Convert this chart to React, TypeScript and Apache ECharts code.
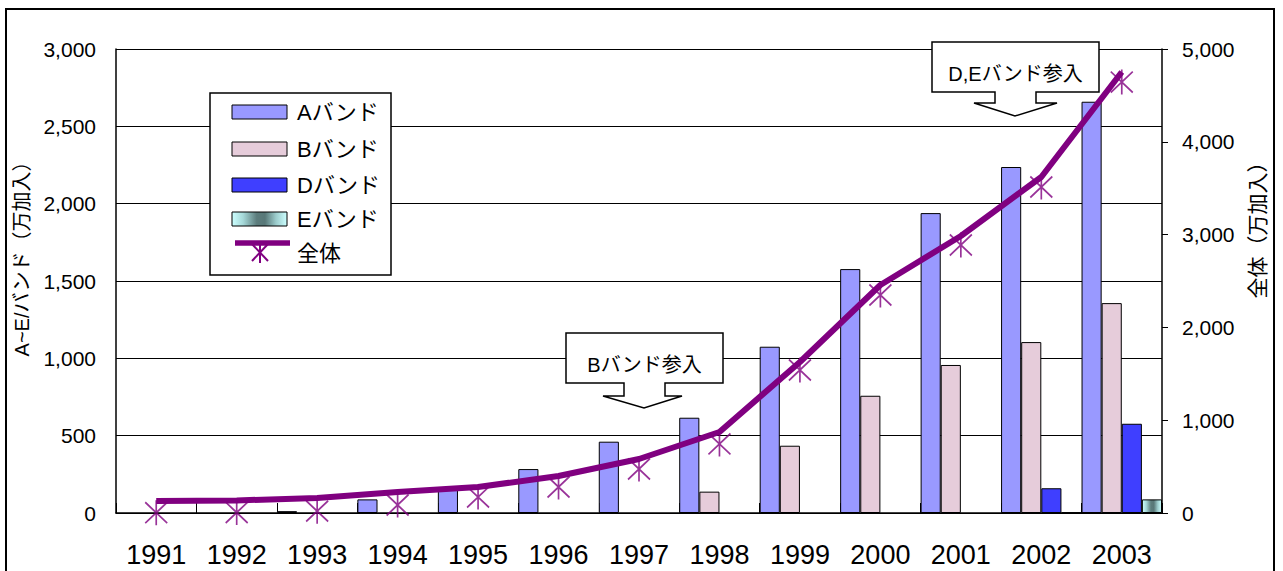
import React, { useEffect, useRef } from "react";
import * as echarts from "echarts";

const years = ["1991", "1992", "1993", "1994", "1995", "1996", "1997", "1998", "1999", "2000", "2001", "2002", "2003"];
const bandA = [null, null, 12, 88, 149, 284, 461, 616, 1075, 1577, 1939, 2237, 2659];
const bandB = [null, null, null, null, null, null, null, 138, 435, 758, 957, 1105, 1357];
const bandD = [null, null, null, null, null, null, null, null, null, null, null, 160, 577];
const bandE = [null, null, null, null, null, null, null, null, null, null, null, 4, 88];
const totalLine = [129, 135, 162, 226, 280, 399, 582, 873, 1627, 2457, 2985, 3621, 4752];
const totalMarks = [3, 5, 20, 86, 172, 280, 474, 744, 1541, 2349, 2888, 3513, 4644];

const seriesNames = ["Aバンド", "Bバンド", "Dバンド", "Eバンド", "全体"];
const calloutTexts = ["Bバンド参入", "D,Eバンド参入"];
const leftAxisTitle = "A~E/バンド（万加入）";
const rightAxisTitle = "全体（万加入）";

const FONT = '"Liberation Sans", Arial, "Noto Sans CJK JP", sans-serif';
const PURPLE = "#800080";
const colA = "#9999FF";
const colB = "#E6CCDA";
const colD = "#3F3FFF";
const gradE = () =>
  new echarts.graphic.LinearGradient(0, 0, 1, 0, [
    { offset: 0, color: "#CCFFFF" },
    { offset: 0.2, color: "#A6D9D9" },
    { offset: 0.45, color: "#5C7C7C" },
    { offset: 0.6, color: "#587878" },
    { offset: 0.8, color: "#9CCCCC" },
    { offset: 1, color: "#CCFFFF" },
  ]);

const starPath = "path://M0,2L20,22M20,2L0,22M10,0L10,24";

function callout(x1: number, y1: number, x2: number, y2: number, s1: number, s2: number, sb: number, h1: number, h2: number, tx: number, ty: number, text: string) {
  return {
    type: "group",
    z: 100,
    children: [
      {
        type: "polygon",
        z: 100,
        shape: {
          points: [
            [x1, y1], [x2, y1], [x2, y2], [s2, y2], [s2, sb], [h2, sb], [tx, ty], [h1, sb], [s1, sb], [s1, y2], [x1, y2],
          ],
        },
        style: { fill: "#fff", stroke: "#000", lineWidth: 1.5 },
      },
      {
        type: "text",
        z: 101,
        x: (x1 + x2) / 2,
        y: (y1 + y2) / 2 + 7,
        style: { text, fontSize: 20, fontFamily: FONT, fill: "#000", align: "center", verticalAlign: "middle" },
      },
    ],
  };
}

function legendGraphic() {
  const fills: any[] = [colA, colB, colD, gradE()];
  const rowsY = [112, 149, 185, 219];
  const children: any[] = [
    { type: "rect", z: 100, shape: { x: 210, y: 93, width: 181, height: 182 }, style: { fill: "#fff", stroke: "#000", lineWidth: 1.5 } },
  ];
  rowsY.forEach((cy, i) => {
    children.push({ type: "rect", z: 101, shape: { x: 232, y: cy - 7, width: 55, height: 14 }, style: { fill: fills[i], stroke: "#000", lineWidth: 1 } });
    children.push({ type: "text", z: 101, x: 297, y: cy, style: { text: seriesNames[i], fontSize: 22, fontFamily: FONT, fill: "#000", align: "left", verticalAlign: "middle" } });
  });
  children.push({ type: "line", z: 101, shape: { x1: 235, y1: 243, x2: 290, y2: 243 }, style: { stroke: PURPLE, lineWidth: 5.5 } });
  children.push({ type: "line", z: 101, shape: { x1: 252, y1: 244, x2: 268, y2: 261 }, style: { stroke: PURPLE, lineWidth: 2 } });
  children.push({ type: "line", z: 101, shape: { x1: 268, y1: 244, x2: 252, y2: 261 }, style: { stroke: PURPLE, lineWidth: 2 } });
  children.push({ type: "line", z: 101, shape: { x1: 260, y1: 244, x2: 260, y2: 263 }, style: { stroke: PURPLE, lineWidth: 2 } });
  children.push({ type: "text", z: 101, x: 297, y: 253, style: { text: seriesNames[4], fontSize: 22, fontFamily: FONT, fill: "#000", align: "left", verticalAlign: "middle" } });
  return { type: "group", z: 100, children };
}

export default function App() {
  const ref = useRef<HTMLDivElement>(null);
  useEffect(() => {
    if (!ref.current) return;
    const chart = echarts.init(ref.current, undefined, { renderer: "svg" });
    const fmt = (v: number) => v.toLocaleString("en-US");
    const barBase = { type: "bar", yAxisIndex: 0, barGap: "0%", barCategoryGap: "0%" };
    chart.setOption({
      animation: false,
      backgroundColor: "#fff",
      textStyle: { fontFamily: FONT },
      grid: { left: 116, right: 121, top: 49, bottom: 58, containLabel: false },
      xAxis: {
        type: "category",
        data: years,
        axisLine: { lineStyle: { color: "#000", width: 1.5 } },
        axisTick: { show: true, inside: true, length: 10, lineStyle: { color: "#000" } },
        axisLabel: { color: "#000", fontSize: 27, margin: 28, fontFamily: FONT },
      },
      yAxis: [
        {
          type: "value",
          min: 0,
          max: 3000,
          interval: 500,
          axisLine: { show: true, lineStyle: { color: "#000", width: 1.5 } },
          axisTick: { show: false },
          splitLine: { show: true, lineStyle: { color: "#000", width: 1.2 } },
          axisLabel: { color: "#000", fontSize: 21, margin: 20, formatter: fmt, fontFamily: FONT },
        },
        {
          type: "value",
          min: 0,
          max: 5000,
          interval: 1000,
          position: "right",
          axisLine: { show: true, lineStyle: { color: "#000", width: 1.5 } },
          axisTick: { show: true, length: 6, lineStyle: { color: "#000" } },
          splitLine: { show: false },
          axisLabel: { color: "#000", fontSize: 21, margin: 20, formatter: fmt, fontFamily: FONT },
        },
      ],
      series: [
        { ...barBase, name: seriesNames[0], data: bandA, itemStyle: { color: colA, borderColor: "#000", borderWidth: 1 } },
        { ...barBase, name: seriesNames[1], data: bandB, itemStyle: { color: colB, borderColor: "#000", borderWidth: 1 } },
        { ...barBase, name: seriesNames[2], data: bandD, itemStyle: { color: colD, borderColor: "#000", borderWidth: 1 } },
        { ...barBase, name: seriesNames[3], data: bandE, itemStyle: { color: gradE(), borderColor: "#000", borderWidth: 1 } },
        {
          type: "line",
          name: seriesNames[4],
          yAxisIndex: 1,
          data: totalLine,
          showSymbol: false,
          symbol: "none",
          z: 5,
          lineStyle: { color: PURPLE, width: 6 },
        },
        {
          type: "scatter",
          name: seriesNames[4] + "_mark",
          yAxisIndex: 1,
          data: totalMarks,
          symbol: starPath,
          symbolSize: [22, 25],
          clip: false,
          z: 6,
          itemStyle: { color: "transparent", borderColor: PURPLE, borderWidth: 1.8 },
        },
      ],
      graphic: [
        { type: "rect", z: 50, silent: true, shape: { x: 6, y: 9, width: 1268, height: 600 }, style: { fill: "none", stroke: "#000", lineWidth: 2 } },
        legendGraphic(),
        callout(566, 333, 723, 383, 624, 665, 396, 603, 682, 644, 408, calloutTexts[0]),
        callout(932, 42, 1099, 92, 995, 1036, 103, 974, 1057, 1015, 116, calloutTexts[1]),
        {
          type: "text",
          z: 100,
          x: 22,
          y: 254,
          rotation: Math.PI / 2,
          style: { text: leftAxisTitle, fontSize: 20, fontFamily: FONT, fill: "#000", align: "center", verticalAlign: "middle" },
        },
        {
          type: "text",
          z: 100,
          x: 1257,
          y: 225,
          rotation: Math.PI / 2,
          style: { text: rightAxisTitle, fontSize: 21, fontFamily: FONT, fill: "#000", align: "center", verticalAlign: "middle" },
        },
      ],
    });
    return () => chart.dispose();
  }, []);
  return <div ref={ref} style={{ position: "fixed", left: 0, top: 0, width: 1283, height: 571 }} />;
}
